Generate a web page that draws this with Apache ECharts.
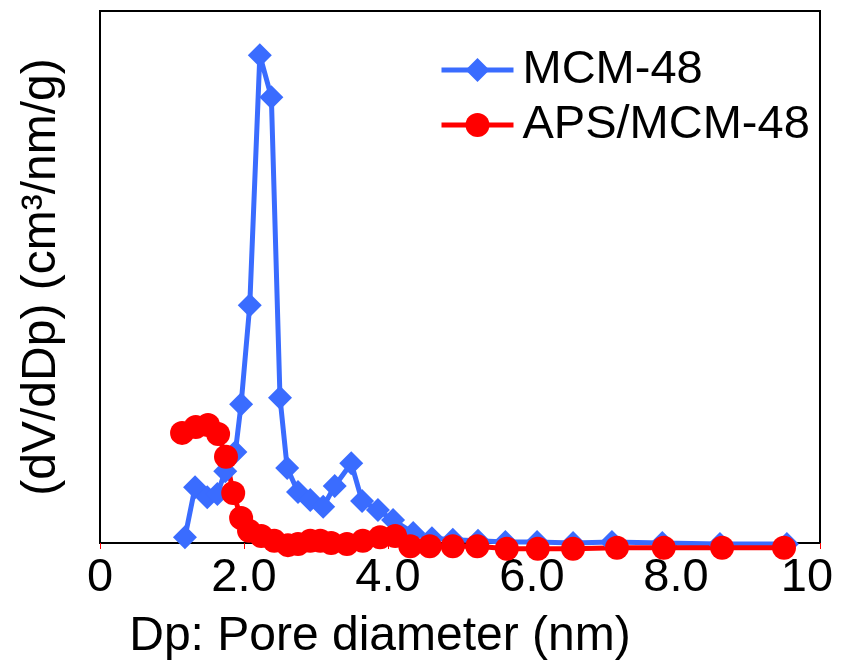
<!DOCTYPE html>
<html>
<head>
<meta charset="utf-8">
<script src="https://cdn.jsdelivr.net/npm/echarts@6/dist/echarts.min.js"></script>
<style>
  html, body { margin: 0; padding: 0; background: #fff; }
  #chart { width: 844px; height: 670px; }
</style>
</head>
<body>
<div id="chart"></div>
<script>
// MCM-48 pore size distribution (x: nm, y: relative dV/dDp)
const mcmX = [1.18, 1.32, 1.49, 1.63, 1.74, 1.88, 1.96, 2.08, 2.22, 2.38, 2.50, 2.60, 2.75, 2.92, 3.10, 3.26, 3.49, 3.64, 3.86, 4.07, 4.35, 4.61, 4.90, 5.25, 5.63, 6.07, 6.57, 7.11, 7.81, 8.61, 9.54];
const mcmY = [0.011, 0.105, 0.086, 0.092, 0.135, 0.171, 0.261, 0.447, 0.917, 0.838, 0.273, 0.141, 0.096, 0.081, 0.068, 0.107, 0.150, 0.079, 0.062, 0.043, 0.019, 0.009, 0.006, 0.004, 0.002, 0.002, 0.000, 0.002, 0.000, -0.002, -0.002];

// APS/MCM-48
const apsX = [1.14, 1.33, 1.50, 1.64, 1.75, 1.85, 1.96, 2.07, 2.24, 2.42, 2.61, 2.75, 2.92, 3.06, 3.21, 3.43, 3.65, 3.89, 4.10, 4.31, 4.58, 4.90, 5.24, 5.65, 6.08, 6.57, 7.18, 7.83, 8.64, 9.50];
const apsY = [0.207, 0.218, 0.222, 0.205, 0.162, 0.094, 0.047, 0.023, 0.013, 0.004, -0.004, -0.002, 0.004, 0.004, 0.000, -0.002, 0.004, 0.011, 0.013, -0.006, -0.006, -0.006, -0.006, -0.011, -0.011, -0.011, -0.009, -0.009, -0.009, -0.009];

const font = "'Liberation Sans', Arial, sans-serif";

// pair up x / y
function toPoints(xs, ys) {
  return xs.map((x, i) => [x, ys[i]]);
}

const chart = echarts.init(document.getElementById("chart"));

chart.setOption({
  animation: false,
  backgroundColor: "#fff",
  grid: {
    left: 100,
    right: 24,
    top: 11,
    bottom: 127,
    show: true,
    borderColor: "#000",
    borderWidth: 2,
  },
  legend: {
    orient: "vertical",
    left: 434,
    top: 41,
    itemWidth: 72,
    itemHeight: 30,
    itemGap: 7,
    lineStyle: { width: 5 },
    textStyle: {
      fontFamily: font,
      fontSize: 47,
      color: "#000",
      lineHeight: 48,
      padding: [0, 0, 0, 4],
    },
    data: ["MCM-48", "APS/MCM-48"],
  },
  xAxis: {
    type: "value",
    min: 0,
    max: 10,
    interval: 2,
    name: "Dp: Pore diameter (nm)",
    nameLocation: "middle",
    nameGap: 70,
    nameTextStyle: {
      fontFamily: font,
      fontSize: 48,
      color: "#000",
      padding: [0, 160, 0, 0],
    },
    axisLine: { lineStyle: { color: "#000", width: 2 } },
    axisTick: { show: true, length: 6, lineStyle: { color: "#ff0000", width: 1 } },
    axisLabel: {
      margin: 12,
      fontFamily: font,
      fontSize: 47,
      color: "#000",
      formatter(v) {
        if (v === 0) return "0";
        if (v === 10) return "{end|10}";
        return v.toFixed(1);
      },
      rich: {
        end: { fontFamily: font, fontSize: 47, color: "#000", padding: [0, 26, 0, 0] },
      },
    },
    splitLine: { show: false },
  },
  yAxis: {
    type: "value",
    min: 0,
    max: 1,
    name: "(dV/dDp) (cm³/nm/g)",
    nameLocation: "middle",
    nameGap: 34,
    nameTextStyle: {
      fontFamily: font,
      fontSize: 48,
      color: "#000",
    },
    axisLine: { show: true, lineStyle: { color: "#000", width: 2 } },
    axisTick: { show: false },
    axisLabel: { show: false },
    splitLine: { show: false },
  },
  series: [
    {
      name: "MCM-48",
      type: "line",
      clip: false,
      data: toPoints(mcmX, mcmY),
      symbol: "diamond",
      symbolSize: 24,
      color: "#3a6cff",
      lineStyle: { color: "#3a6cff", width: 5 },
      itemStyle: { color: "#3a6cff" },
    },
    {
      name: "APS/MCM-48",
      type: "line",
      clip: false,
      data: toPoints(apsX, apsY),
      symbol: "circle",
      symbolSize: 24,
      color: "#ff0000",
      lineStyle: { color: "#ff0000", width: 5 },
      itemStyle: { color: "#ff0000" },
    },
  ],
});
</script>
</body>
</html>
